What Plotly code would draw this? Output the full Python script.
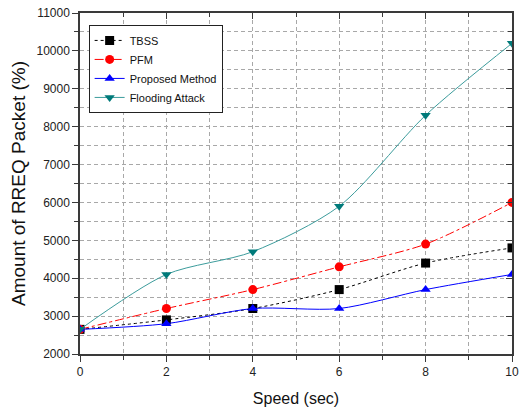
import plotly.graph_objects as go

speed = [0, 2, 4, 6, 8, 10]
tbss = [2650, 2900, 3200, 3700, 4400, 4800]
pfm = [2650, 3200, 3700, 4300, 4900, 6000]
proposed = [2650, 2800, 3200, 3200, 3700, 4100]
flooding = [2650, 4100, 4700, 5900, 8300, 10200]

series = [
    ("TBSS", tbss, "black", "black", "dot", "square"),
    ("PFM", pfm, "red", "red", "dashdot", "circle"),
    ("Proposed Method", proposed, "blue", "blue", "solid", "triangle-up"),
    ("Flooding Attack", flooding, "#3c9c9c", "#007a7a", "solid", "triangle-down"),
]

FONT = "Arial, Liberation Sans, sans-serif"
GRID = "#a8a8a8"
AX = "#3a3a3a"

fig = go.Figure()
for name, ys, lc, mc, dash, sym in series:
    fig.add_trace(go.Scatter(
        x=speed, y=ys, name=name, mode="lines+markers",
        line=dict(color=lc, width=1, dash=dash, shape="spline", smoothing=0.8),
        marker=dict(symbol=sym, size=9, color=mc),
    ))

# invisible trace to activate top/right tick axes
fig.add_trace(go.Scatter(x=speed, y=flooding, xaxis="x2", yaxis="y2",
                         mode="lines", line=dict(width=0), opacity=0,
                         showlegend=False, hoverinfo="skip"))

grid_common = dict(showgrid=True, gridcolor=GRID, griddash="4px,3px", gridwidth=1)

fig.update_layout(
    xaxis=dict(range=[0, 10], tick0=0, dtick=2, tickformat="d", automargin=False,
               showline=True, linecolor=AX, linewidth=1.5,
               ticks="outside", ticklen=6, tickcolor=AX, tickwidth=1.2,
               zeroline=False, **grid_common,
               minor=dict(dtick=1, ticks="outside", ticklen=4, tickcolor=AX,
                          **grid_common),
               tickfont=dict(family=FONT, size=12, color="#222"),
               title=dict(text="Speed (sec)", font=dict(family=FONT, size=16, color="#111"), standoff=20)),
    yaxis=dict(range=[2000, 11000], tick0=2000, dtick=1000, tickformat="d", automargin=False,
               showline=True, linecolor=AX, linewidth=1.5,
               ticks="outside", ticklen=6, tickcolor=AX, tickwidth=1.2,
               zeroline=False, **grid_common,
               minor=dict(dtick=500, ticks="outside", ticklen=4, tickcolor=AX,
                          **grid_common),
               tickfont=dict(family=FONT, size=12, color="#222"),
               title=dict(text="Amount of RREQ Packet (%)", font=dict(family=FONT, size=19, color="#111"), standoff=6)),
    xaxis2=dict(range=[0, 10], overlaying="x", side="top", anchor="y", automargin=False,
                tick0=0, dtick=2, showticklabels=False,
                showline=True, linecolor=AX, linewidth=1.5,
                ticks="inside", ticklen=6, tickcolor=AX, tickwidth=1.2,
                showgrid=False, zeroline=False,
                minor=dict(dtick=1, ticks="inside", ticklen=4, tickcolor=AX, showgrid=False)),
    yaxis2=dict(range=[2000, 11000], overlaying="y", side="right", anchor="x", automargin=False,
                tick0=2000, dtick=1000, showticklabels=False,
                showline=True, linecolor=AX, linewidth=1.5,
                ticks="inside", ticklen=6, tickcolor=AX, tickwidth=1.2,
                showgrid=False, zeroline=False,
                minor=dict(dtick=500, ticks="inside", ticklen=4, tickcolor=AX, showgrid=False)),
    width=523, height=407,
    margin=dict(l=80, r=11, t=13, b=53),
    paper_bgcolor="white", plot_bgcolor="white",
    font=dict(family=FONT, size=11, color="#222"),
    legend=dict(x=0.02, y=0.965, xanchor="left", yanchor="top",
                bordercolor="#222", borderwidth=1, bgcolor="white",
                font=dict(family=FONT, size=11, color="#111"),
                tracegroupgap=0, itemwidth=30),
    showlegend=True,
)

fig.write_html("out.html")
